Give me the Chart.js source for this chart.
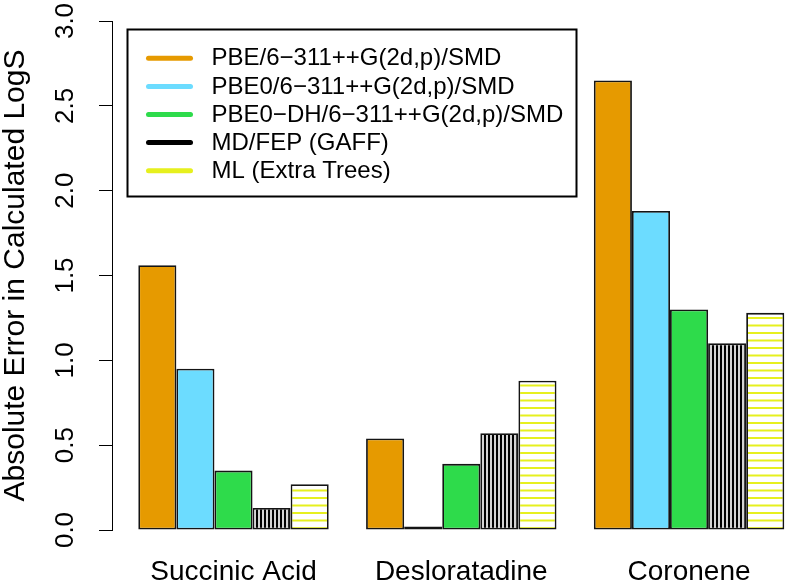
<!DOCTYPE html>
<html>
<head>
<meta charset="utf-8">
<script src="https://cdn.jsdelivr.net/npm/chart.js@4.4.1/dist/chart.umd.min.js"></script>
<style>
  html, body { margin: 0; padding: 0; background: #ffffff; }
  #wrap { width: 810px; height: 582px; }
</style>
</head>
<body>
<div id="wrap"><canvas id="c" width="810" height="582"></canvas></div>
<script>
// ---------------- data ----------------
const categories = ['Succinic Acid', 'Desloratadine', 'Coronene'];
const seriesNames = [
  'PBE/6\u2212311++G(2d,p)/SMD',
  'PBE0/6\u2212311++G(2d,p)/SMD',
  'PBE0\u2212DH/6\u2212311++G(2d,p)/SMD',
  'MD/FEP (GAFF)',
  'ML (Extra Trees)'
];
const pbeValues    = [1.56, 0.54, 2.65];
const pbe0Values   = [0.95, 0.02, 1.88];
const pbe0dhValues = [0.35, 0.39, 1.30];
const mdfepValues  = [0.13, 0.57, 1.10];
const mlValues     = [0.27, 0.88, 1.28];
const yTickValues  = [0, 0.5, 1.0, 1.5, 2.0, 2.5, 3.0];
const yTickLabels  = ['0.0', '0.5', '1.0', '1.5', '2.0', '2.5', '3.0'];
const yTitle = 'Absolute Error in Calculated LogS';

// ---------------- styles ----------------
const FONT = "'Liberation Sans', Arial, Helvetica, sans-serif";
const legendColors = ['#E69A00', '#6CDCFF', '#2EDB4B', '#000000', '#E6F01E'];

function makeVerticalStripes() {
  const c = document.createElement('canvas');
  c.width = 4; c.height = 4;
  const g = c.getContext('2d');
  g.fillStyle = '#d4d4d4'; g.fillRect(0, 0, 4, 4);
  g.fillStyle = '#000000'; g.fillRect(0, 0, 2, 4);
  return g.createPattern(c, 'repeat');
}
function makeHorizontalStripes() {
  const c = document.createElement('canvas');
  c.width = 4; c.height = 15;
  const g = c.getContext('2d');
  g.fillStyle = '#ffffff'; g.fillRect(0, 0, 4, 15);
  g.fillStyle = '#E6F01E';
  g.fillRect(0, 2, 4, 2);
  g.fillRect(0, 9.5, 4, 2);
  return g.createPattern(c, 'repeat');
}

const ctx = document.getElementById('c').getContext('2d');
const barFills = [legendColors[0], legendColors[1], legendColors[2], makeVerticalStripes(), makeHorizontalStripes()];
const seriesValues = [pbeValues, pbe0Values, pbe0dhValues, mdfepValues, mlValues];

const datasets = seriesValues.map((vals, k) => ({
  label: seriesNames[k],
  data: vals.map((v, i) => ({ x: i, y: v })),
  backgroundColor: barFills[k],
  borderColor: '#141414',
  borderWidth: 1.8,
  borderSkipped: false,
  categoryPercentage: 0.836,
  barPercentage: 1.0
}));

const whiteBg = {
  id: 'whiteBg',
  beforeDraw(chart) {
    const c = chart.ctx;
    c.save();
    c.fillStyle = '#ffffff';
    c.fillRect(0, 0, chart.width, chart.height);
    c.restore();
  }
};

const boxLegend = {
  id: 'boxLegend',
  afterDraw(chart) {
    const c = chart.ctx;
    c.save();
    const bx = 127.5, by = 29.5, bw = 449, bh = 167;
    c.fillStyle = '#ffffff';
    c.fillRect(bx, by, bw, bh);
    c.strokeStyle = '#000000';
    c.lineWidth = 2;
    c.strokeRect(bx, by, bw, bh);
    c.font = '24px ' + FONT;
    c.textAlign = 'left';
    c.textBaseline = 'middle';
    chart.data.datasets.forEach((ds, k) => {
      const y = 58.3 + k * 28.1;
      c.strokeStyle = legendColors[k];
      c.lineWidth = 5;
      c.lineCap = 'round';
      c.beginPath();
      c.moveTo(148.5, y);
      c.lineTo(190.5, y);
      c.stroke();
      c.fillStyle = '#000000';
      c.fillText(ds.label, 211.5, y + 0.5);
    });
    c.restore();
  }
};

Chart.defaults.font.family = FONT;
Chart.defaults.color = '#000000';

new Chart(ctx, {
  type: 'bar',
  data: { datasets },
  plugins: [whiteBg, boxLegend],
  options: {
    responsive: false,
    animation: false,
    devicePixelRatio: 1,
    layout: { padding: { left: 0, right: 5, top: 21, bottom: 0 } },
    plugins: {
      legend: { display: false },
      tooltip: { enabled: false }
    },
    scales: {
      x: {
        type: 'linear',
        min: -0.5334,
        max: 2.509,
        offset: false,
        grid: { display: false, offset: false },
        border: { display: false },
        afterBuildTicks: (s) => { s.ticks = categories.map((c, i) => ({ value: i })); },
        afterFit: (s) => { s.height = 52; s.paddingLeft = 0; s.paddingRight = 0; s.paddingTop = 0; s.paddingBottom = 0; },
        ticks: {
          font: { size: 28 },
          padding: 17,
          maxRotation: 0,
          minRotation: 0,
          autoSkip: false,
          callback: (v) => categories[v]
        }
      },
      y: {
        type: 'linear',
        position: 'left',
        min: 0,
        max: 3,
        afterBuildTicks: (s) => { s.ticks = yTickValues.map(v => ({ value: v })); },
        afterFit: (s) => { s.width = 112; s.paddingLeft = 0; s.paddingRight = 0; s.paddingTop = 0; s.paddingBottom = 0; },
        border: { display: true, color: '#000000', width: 1 },
        grid: { display: true, drawOnChartArea: false, drawTicks: true, tickLength: 13, color: '#000000', lineWidth: 1 },
        ticks: {
          font: { size: 26 },
          padding: 15,
          minRotation: 90,
          maxRotation: 90,
          crossAlign: 'center',
          callback: (v, i) => yTickLabels[i]
        },
        title: {
          display: true,
          text: yTitle,
          font: { size: 30, lineHeight: 1.0 },
          padding: { top: 1, bottom: 0 }
        }
      }
    }
  }
});
</script>
</body>
</html>
